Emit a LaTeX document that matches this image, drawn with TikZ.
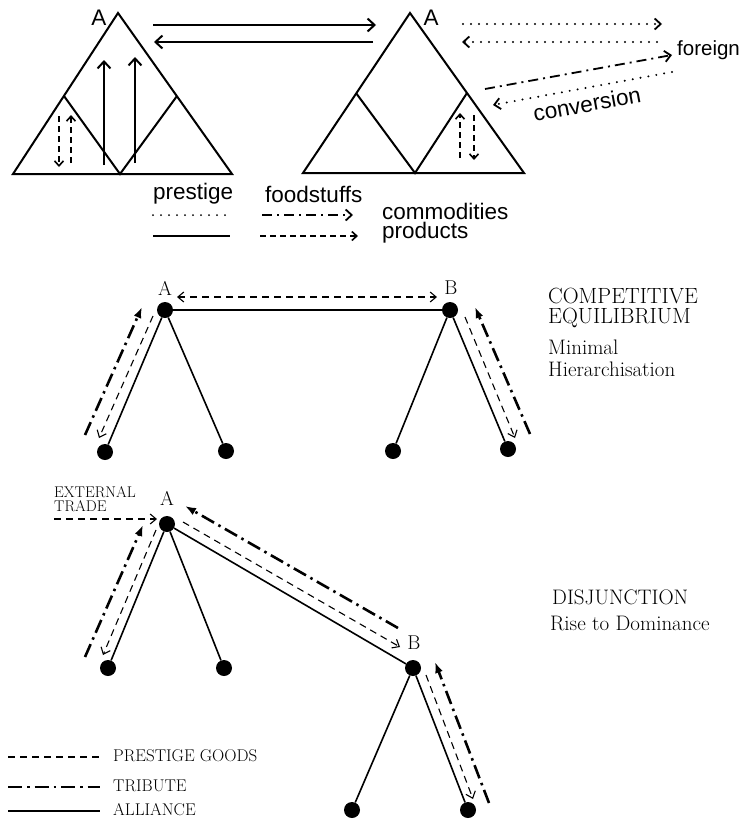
\documentclass[tikz,border=0pt]{standalone}
\usepackage{fontspec}
\newfontfamily\helv{Liberation Sans}
\usetikzlibrary{arrows.meta}

\begin{document}
\begin{tikzpicture}
  [x=1pt,y=-1pt,
   tri/.style={line width=2pt,line join=miter},
   sflow/.style={line width=2pt,-{Straight Barb[length=7pt,width=13pt,line width=2pt]}},
   dotflow/.style={line width=2.2pt,line cap=round,dash pattern=on 0pt off 8pt,-{Straight Barb[length=6pt,width=11pt,line width=1.8pt]}},
   dashflow/.style={line width=1.6pt,dash pattern=on 6pt off 4pt,-{Straight Barb[length=5pt,width=9pt,line width=1.6pt]}},
   ddflow/.style={line width=1.8pt,dash pattern=on 10pt off 5pt on 2pt off 5pt,-{Straight Barb[length=6pt,width=11pt,line width=1.8pt]}},
   dot/.style={circle,fill=black,inner sep=0pt,minimum size=16pt},
   alliance/.style={line width=1.6pt},
   prestige/.style={line width=1.1pt,dash pattern=on 7pt off 5pt},
   tribute/.style={line width=2.6pt,dash pattern=on 14pt off 5pt on 2.5pt off 5pt},
   ptip/.style={-{Straight Barb[length=6pt,width=10pt,line width=1.1pt]}},
   ttip/.style={-{Latex[length=11pt,width=8pt]}},
   sans/.style={font=\helv\fontsize{22.5}{24}\selectfont,inner sep=0pt},
   serif/.style={font=\fontsize{21}{22}\selectfont,inner sep=0pt},
   small/.style={font=\fontsize{17}{18}\selectfont,inner sep=0pt},
   lab/.style={font=\fontsize{20}{20}\selectfont,inner sep=0pt}]
  \useasboundingbox (0,0) rectangle (742,825);

  % top: two triangles
  \draw[tri] (118,13) -- (13,174) -- (232,174) -- cycle;
  \draw[tri] (64,96) -- (120,174) -- (177,96);
  \draw[tri] (410,13) -- (303,173) -- (524,173) -- cycle;
  \draw[tri] (356,93) -- (415,173) -- (467,93);
  \node[sans] at (99,18) {A};
  \node[sans] at (431,18) {A};

  \coordinate (S_1) at (153,25);  \coordinate (S_2) at (376,25);
  \coordinate (S_3) at (373,42);  \coordinate (S_4) at (154,42);
  \coordinate (U_1) at (104,165); \coordinate (U_2) at (104,60);
  \coordinate (U_3) at (135,163); \coordinate (U_4) at (135,57);
  \foreach \from/\to in {S_1/S_2,S_3/S_4,U_1/U_2,U_3/U_4}
    \draw[sflow] (\from) -- (\to);

  \coordinate (F_1) at (59,116);  \coordinate (F_2) at (59,167);
  \coordinate (F_3) at (71,163);  \coordinate (F_4) at (71,115);
  \coordinate (F_5) at (460,158); \coordinate (F_6) at (460,113);
  \coordinate (F_7) at (474,115); \coordinate (F_8) at (474,160);
  \foreach \from/\to in {F_1/F_2,F_3/F_4,F_5/F_6,F_7/F_8}
    \draw[dashflow] (\from) -- (\to);

  \coordinate (X_1) at (463,24);  \coordinate (X_2) at (662,24);
  \coordinate (X_3) at (657,42);  \coordinate (X_4) at (462,42);
  \coordinate (X_5) at (672,72);  \coordinate (X_6) at (493,105);
  \foreach \from/\to in {X_1/X_2,X_3/X_4,X_5/X_6}
    \draw[dotflow] (\from) -- (\to);
  \coordinate (C_1) at (485,89);  \coordinate (C_2) at (672,55);
  \draw[ddflow] (C_1) -- (C_2);
  \node[sans,anchor=west,font=\helv\fontsize{20.5}{22}\selectfont] (foreign) at (677,50) {foreign};
  \node[sans,rotate=10.5] (conv) at (587,104) {conversion};

  % top legend
  \node[sans,anchor=west] (k_pr) at (153,194) {prestige};
  \node[sans,anchor=west] (k_fo) at (265,194) {foodstuffs};
  \node[sans,anchor=west] (k_co) at (382,211) {commodities};
  \node[sans,anchor=west] (k_pd) at (382,233) {products};
  \coordinate (K_1) at (153,215); \coordinate (K_2) at (230,215);
  \coordinate (K_3) at (262,215); \coordinate (K_4) at (353,215);
  \coordinate (K_5) at (153,236); \coordinate (K_6) at (230,236);
  \coordinate (K_7) at (260,236); \coordinate (K_8) at (358,236);
  \draw[line width=2pt,line cap=round,dash pattern=on 0pt off 8pt] (K_1) -- (K_2);
  \draw[ddflow] (K_3) -- (K_4);
  \draw[line width=2pt] (K_5) -- (K_6);
  \draw[dashflow] (K_7) -- (K_8);

  % competitive equilibrium
  \node[dot] (M_A) at (165,310) {};
  \node[dot] (M_B) at (450,310) {};
  \node[dot] (M_1) at (105,452) {};
  \node[dot] (M_2) at (226,451) {};
  \node[dot] (M_3) at (393,451) {};
  \node[dot] (M_4) at (508,449) {};
  \node[lab] at (165,288) {A};
  \node[lab] at (451,288) {B};
  \foreach \from/\to in {M_A/M_B,M_A/M_1,M_A/M_2,M_B/M_3,M_B/M_4}
    \draw[alliance] (\from) -- (\to);
  \coordinate (m_1) at (177,297); \coordinate (m_2) at (437,297);
  \draw[prestige,{Straight Barb[length=6pt,width=10pt,line width=1.1pt]}-{Straight Barb[length=6pt,width=10pt,line width=1.1pt]}] (m_1) -- (m_2);
  \coordinate (m_3) at (85,435);  \coordinate (m_4) at (142,307);
  \coordinate (m_5) at (153,316); \coordinate (m_6) at (99,438);
  \coordinate (m_7) at (465,317); \coordinate (m_8) at (515,438);
  \coordinate (m_9) at (530,434); \coordinate (m_10) at (475,307);
  \draw[tribute,ttip] (m_3) -- (m_4);
  \draw[prestige,ptip] (m_5) -- (m_6);
  \draw[prestige,ptip] (m_7) -- (m_8);
  \draw[tribute,ttip] (m_9) -- (m_10);
  \node[serif,anchor=west,align=left,font=\fontsize{22}{20.5}\selectfont] (ce) at (548,308) {COMPETITIVE\\EQUILIBRIUM};
  \node[serif,anchor=west,align=left] (mh) at (548,358) {Minimal\\Hierarchisation};

  % disjunction
  \node[dot] (D_A) at (167,524) {};
  \node[dot] (D_B) at (413,668) {};
  \node[dot] (D_1) at (108,668) {};
  \node[dot] (D_2) at (224,668) {};
  \node[dot] (D_3) at (352,810) {};
  \node[dot] (D_4) at (468,810) {};
  \node[lab] at (167,498) {A};
  \node[lab] at (414,643) {B};
  \foreach \from/\to in {D_A/D_B,D_A/D_1,D_A/D_2,D_B/D_3,D_B/D_4}
    \draw[alliance] (\from) -- (\to);
  \node[small,anchor=west,align=left,font=\fontsize{15.5}{14.5}\selectfont] (ext) at (54,499) {EXTERNAL\\TRADE};
  \coordinate (d_0) at (54,519);  \coordinate (d_00) at (157,519);
  \draw[prestige,ptip] (d_0) -- (d_00);
  \coordinate (d_1) at (85,657);  \coordinate (d_2) at (143,525);
  \coordinate (d_3) at (156,530); \coordinate (d_4) at (103,655);
  \coordinate (d_5) at (398,628); \coordinate (d_6) at (185,506);
  \coordinate (d_7) at (183,522); \coordinate (d_8) at (400,647);
  \coordinate (d_9) at (426,675); \coordinate (d_10) at (473,799);
  \coordinate (d_11) at (489,803); \coordinate (d_12) at (435,662);
  \draw[tribute,ttip] (d_1) -- (d_2);
  \draw[prestige,ptip] (d_3) -- (d_4);
  \draw[tribute,ttip] (d_5) -- (d_6);
  \draw[prestige,ptip] (d_7) -- (d_8);
  \draw[prestige,ptip] (d_9) -- (d_10);
  \draw[tribute,ttip] (d_11) -- (d_12);
  \node[serif,anchor=west] (dis) at (552,597) {DISJUNCTION};
  \node[serif,anchor=west] (rise) at (550,623) {Rise to Dominance};

  % bottom legend
  \coordinate (L_1) at (8,757);  \coordinate (L_2) at (100,757);
  \coordinate (L_3) at (8,787);  \coordinate (L_4) at (100,787);
  \coordinate (L_5) at (8,811);  \coordinate (L_6) at (100,811);
  \draw[prestige] (L_1) -- (L_2);
  \draw[tribute] (L_3) -- (L_4);
  \draw[alliance] (L_5) -- (L_6);
  \node[small,anchor=west] (l_pg) at (113,756) {PRESTIGE GOODS};
  \node[small,anchor=west] (l_tr) at (113,786) {TRIBUTE};
  \node[small,anchor=west] (l_al) at (113,810) {ALLIANCE};
\end{tikzpicture}
\end{document}
